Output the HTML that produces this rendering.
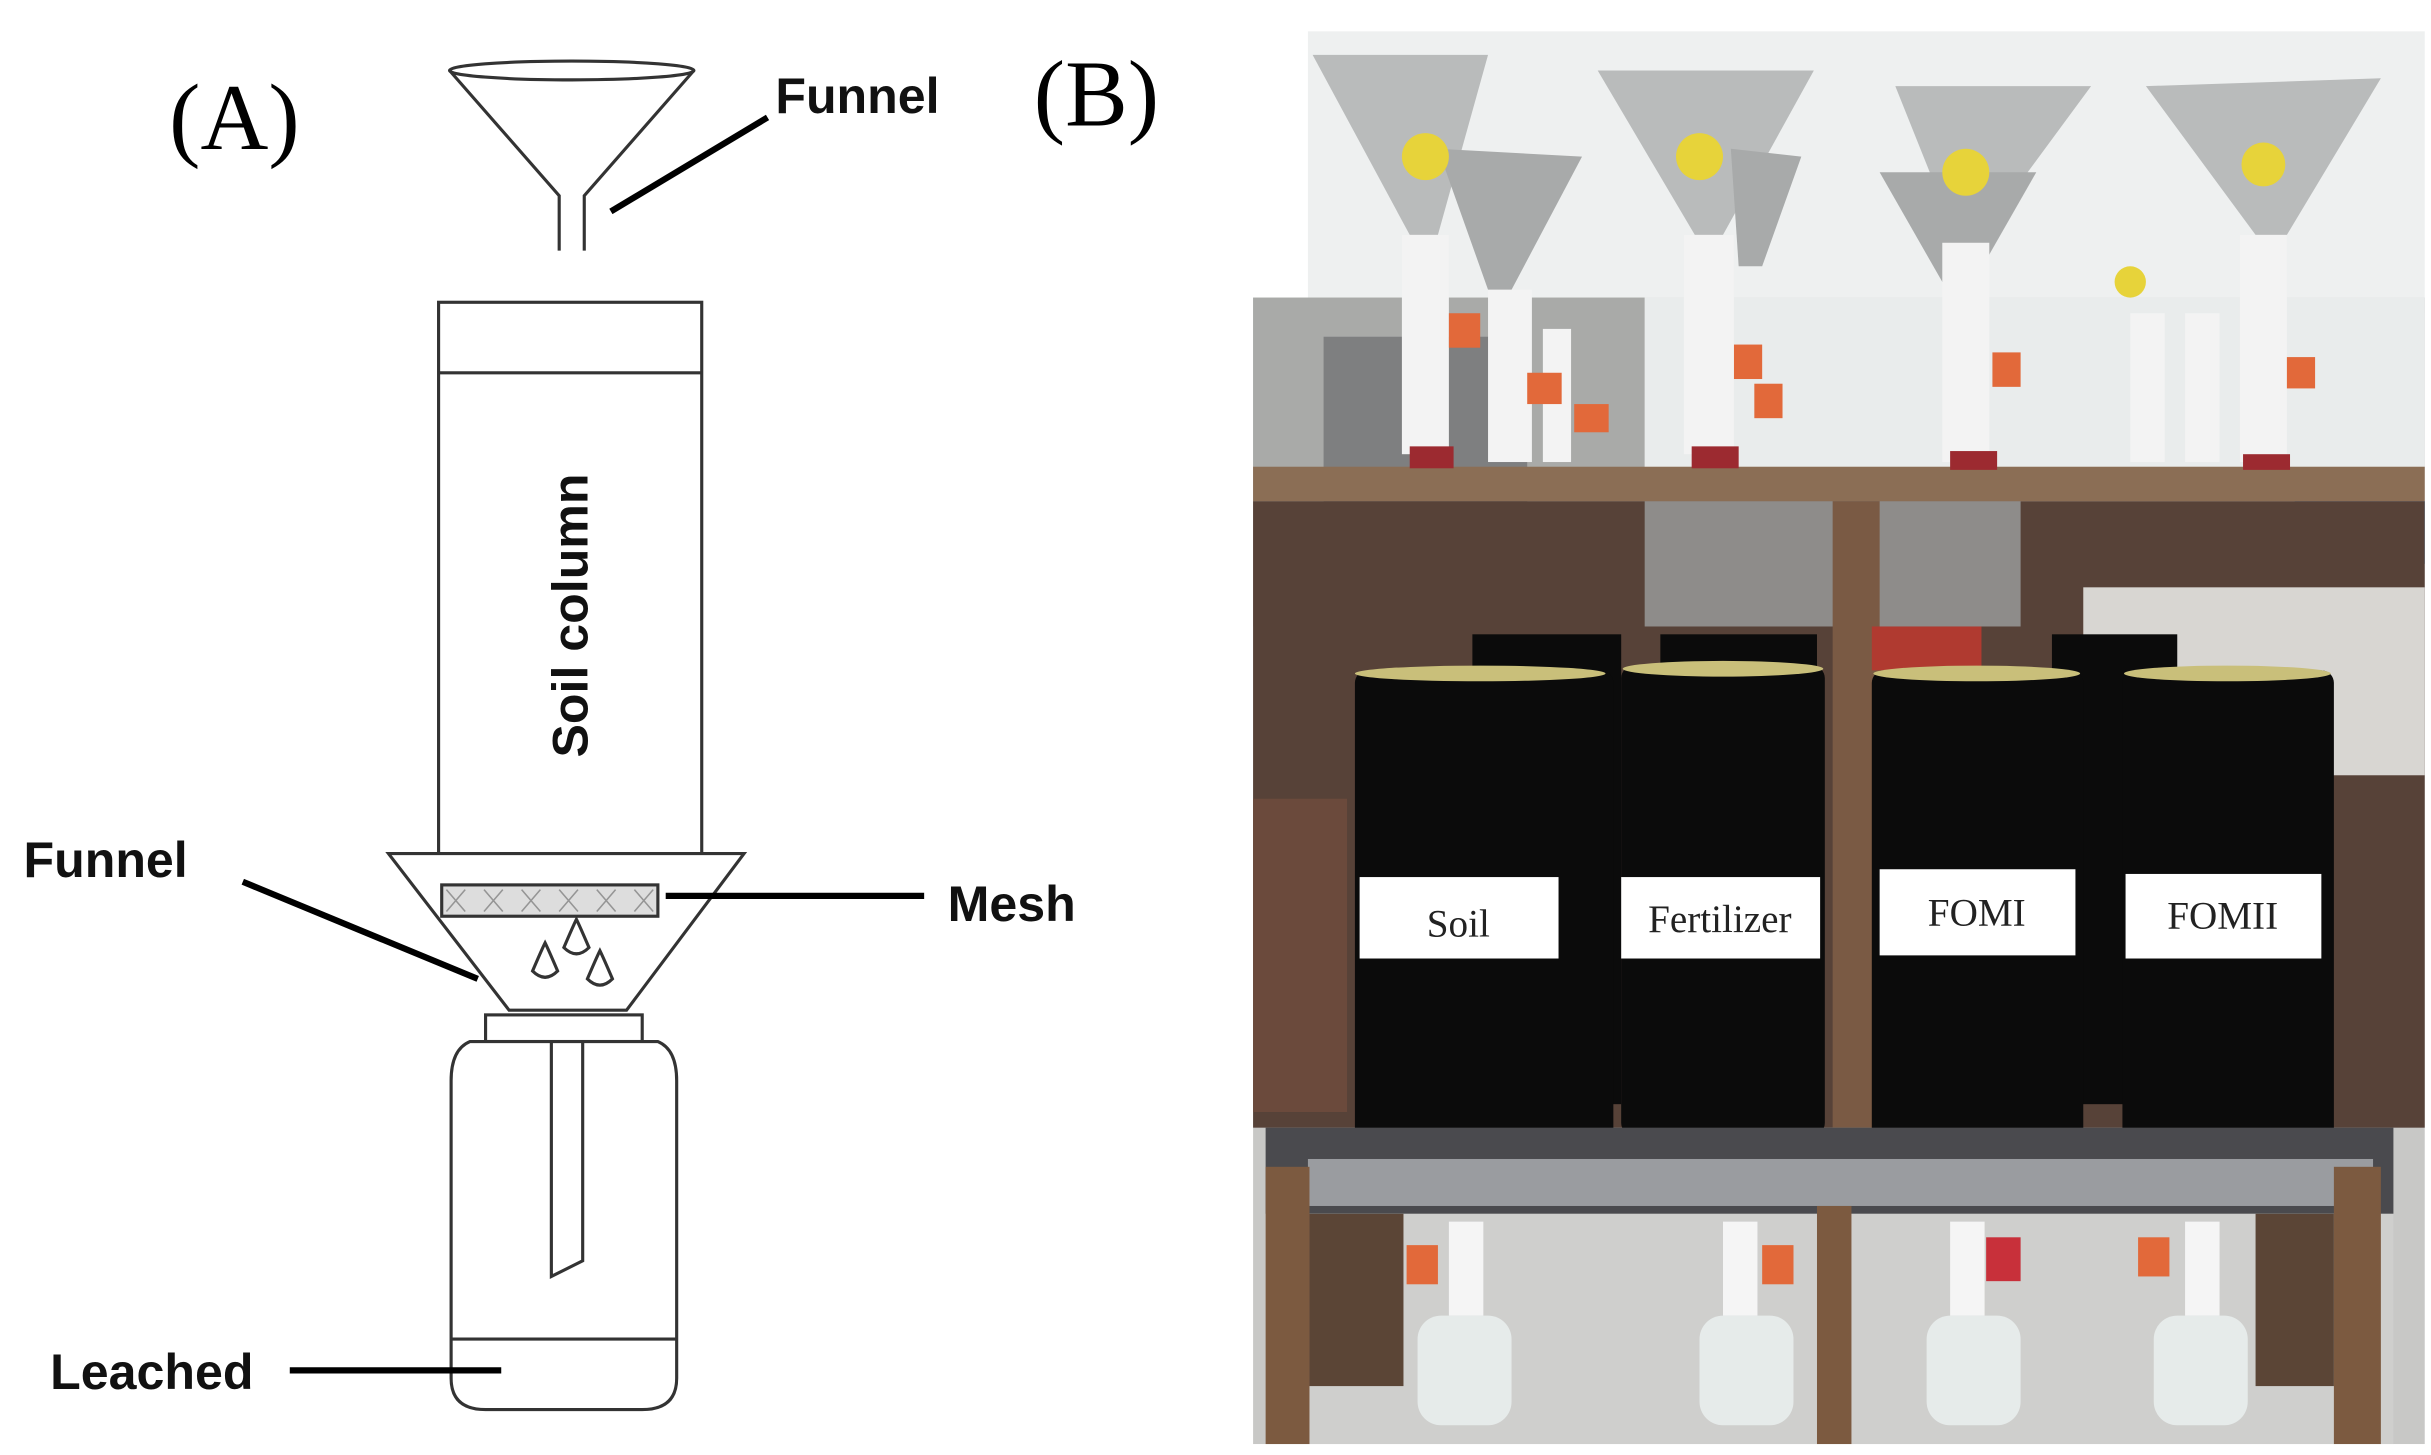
<!DOCTYPE html>
<html><head><meta charset="utf-8"><style>html,body{margin:0;padding:0;background:#fff}svg{display:block}</style></head>
<body>
<svg width="2431" height="1455" viewBox="0 0 1552 929" preserveAspectRatio="none" xmlns="http://www.w3.org/2000/svg">
<rect width="1552" height="929" fill="#fff"/>
<!-- Panel A -->
<text x="108" y="95" font-family="Liberation Serif, serif" font-size="60">(A)</text>
<text x="660" y="80" font-family="Liberation Serif, serif" font-size="60">(B)</text>
<g fill="none" stroke="#333" stroke-width="2">
<ellipse cx="365" cy="45" rx="78" ry="6"/>
<path d="M287 45 L357 125 L357 160 M443 45 L373 125 L373 160"/>
<rect x="280" y="193" width="168" height="352"/>
<line x1="280" y1="238" x2="448" y2="238"/>
<path d="M248 545 L475 545 L400 645 L325 645 Z" fill="#fff"/>
<rect x="282" y="565" width="138" height="20" fill="#ddd"/>
<path d="M340 620 q6-14 8-18 q2 4 8 18 q-8 8-16 0Z M360 605 q6-14 8-18 q2 4 8 18 q-8 8-16 0Z M375 625 q6-14 8-18 q2 4 8 18 q-8 8-16 0Z"/>
<rect x="310" y="648" width="100" height="17" fill="#fff"/>
<path d="M300 665 L420 665 Q432 670 432 690 L432 880 Q432 900 410 900 L310 900 Q288 900 288 880 L288 690 Q288 670 300 665Z" fill="#fff"/>
<line x1="288" y1="855" x2="432" y2="855"/>
<path d="M352 665 L352 815 L372 805 L372 665"/>
</g>
<g stroke="#666" stroke-width="1" opacity=".6">
<path d="M285 568 l12 14 m0-14 l-12 14 m24-14 l12 14 m0-14 l-12 14 m24-14 l12 14 m0-14 l-12 14 m24-14 l12 14 m0-14 l-12 14 m24-14 l12 14 m0-14 l-12 14 m24-14 l12 14 m0-14 l-12 14"/>
</g>
<g stroke="#000" stroke-width="4">
<line x1="390" y1="135" x2="490" y2="75"/>
<line x1="155" y1="563" x2="305" y2="625"/>
<line x1="425" y1="572" x2="590" y2="572"/>
<line x1="185" y1="875" x2="320" y2="875"/>
</g>
<g font-family="Liberation Sans, sans-serif" font-weight="bold" font-size="32" fill="#111">
<text x="495" y="72">Funnel</text>
<text x="15" y="560">Funnel</text>
<text x="605" y="588">Mesh</text>
<text x="32" y="887">Leached</text>
<text transform="translate(375,393) rotate(-90)" text-anchor="middle">Soil column</text>
</g>
<!-- Panel B photo -->
<rect x="835" y="20" width="713" height="180" fill="#eef0f0"/>
<rect x="800" y="190" width="748" height="732" fill="#c8c8c6"/>
<rect x="800" y="190" width="250" height="210" fill="#a9aaa8"/>
<rect x="845" y="215" width="130" height="110" fill="#7e7f80"/>
<rect x="1050" y="190" width="498" height="120" fill="#e9ecec"/>
<rect x="1290" y="325" width="100" height="25" fill="#2ba04a"/>
<rect x="1465" y="320" width="83" height="40" fill="#2a78c0"/>
<rect x="800" y="320" width="748" height="400" fill="#574238"/>
<rect x="1050" y="320" width="240" height="80" fill="#8e8c8a"/>
<rect x="1330" y="375" width="218" height="120" fill="#d8d6d2"/>
<rect x="800" y="510" width="60" height="200" fill="#6b4a3c"/>
<rect x="800" y="298" width="748" height="22" fill="#8b6e55"/>
<rect x="1170" y="320" width="30" height="400" fill="#7a5a44"/>
<!-- funnels -->
<g fill="#b9bbbb">
<path d="M838 35 L950 35 L918 150 L900 150Z"/><path d="M918 95 L1010 100 L965 185 L950 185Z" fill="#a8aaaa"/>
<path d="M1020 45 L1158 45 L1100 150 L1082 150Z"/><path d="M1105 95 L1150 100 L1125 170 L1110 170Z" fill="#a8aaaa"/>
<path d="M1210 55 L1335 55 L1265 150 L1248 150Z"/><path d="M1200 110 L1300 110 L1260 180 L1240 180Z" fill="#a8aaaa"/>
<path d="M1370 55 L1520 50 L1460 150 L1440 150Z"/>
</g>
<g fill="#e7d33a"><circle cx="910" cy="100" r="15"/><circle cx="1085" cy="100" r="15"/><circle cx="1255" cy="110" r="15"/><circle cx="1445" cy="105" r="14"/><circle cx="1360" cy="180" r="10"/></g>
<g fill="#f3f3f3">
<rect x="895" y="150" width="30" height="140"/><rect x="950" y="185" width="28" height="110"/><rect x="985" y="210" width="18" height="85"/>
<rect x="1075" y="150" width="32" height="140"/><rect x="1240" y="155" width="30" height="140"/><rect x="1430" y="150" width="30" height="145"/><rect x="1360" y="200" width="22" height="95"/><rect x="1395" y="200" width="22" height="95"/>
</g>
<g fill="#e2693a"><rect x="925" y="200" width="20" height="22"/><rect x="975" y="238" width="22" height="20"/><rect x="1005" y="258" width="22" height="18"/><rect x="1107" y="220" width="18" height="22"/><rect x="1120" y="245" width="18" height="22"/><rect x="1272" y="225" width="18" height="22"/><rect x="1460" y="228" width="18" height="20"/></g>
<g fill="#9c2a30"><rect x="900" y="285" width="28" height="14"/><rect x="1080" y="285" width="30" height="14"/><rect x="1245" y="288" width="30" height="12"/><rect x="1432" y="290" width="30" height="10"/></g>
<!-- cylinders -->
<g fill="#0b0b0b">
<rect x="940" y="405" width="95" height="300"/><rect x="1060" y="405" width="100" height="300"/><rect x="1310" y="405" width="80" height="300"/>
<rect x="865" y="428" width="165" height="300" rx="8"/><rect x="1035" y="425" width="130" height="300" rx="8"/><rect x="1195" y="428" width="135" height="300" rx="8"/><rect x="1355" y="428" width="135" height="300" rx="8"/>
</g>
<rect x="1195" y="400" width="70" height="28" fill="#b03a30"/>
<g fill="#c9bf7a"><ellipse cx="945" cy="430" rx="80" ry="5"/><ellipse cx="1100" cy="427" rx="64" ry="5"/><ellipse cx="1262" cy="430" rx="66" ry="5"/><ellipse cx="1422" cy="430" rx="66" ry="5"/></g>
<g fill="#fff"><rect x="868" y="560" width="127" height="52"/><rect x="1035" y="560" width="127" height="52"/><rect x="1200" y="555" width="125" height="55"/><rect x="1357" y="558" width="125" height="54"/></g>
<g font-family="Liberation Serif, serif" font-size="25" fill="#222" text-anchor="middle">
<text x="931" y="598">Soil</text><text x="1098" y="595">Fertilizer</text><text x="1262" y="591">FOMI</text><text x="1419" y="593">FOMII</text>
</g>
<!-- stand -->
<rect x="808" y="720" width="720" height="55" fill="#4a4a4e"/>
<rect x="835" y="740" width="680" height="30" fill="#9a9ca0"/>
<rect x="808" y="775" width="720" height="147" fill="#cfcfcd"/>
<g fill="#7c5a40"><rect x="808" y="745" width="28" height="177"/><rect x="1160" y="770" width="22" height="152"/><rect x="1490" y="745" width="30" height="177"/></g>
<g fill="#5b4536"><rect x="836" y="775" width="60" height="110"/><rect x="1440" y="775" width="50" height="110"/></g>
<g fill="#e6ebea"><rect x="905" y="840" width="60" height="70" rx="15"/><rect x="1085" y="840" width="60" height="70" rx="15"/><rect x="1230" y="840" width="60" height="70" rx="15"/><rect x="1375" y="840" width="60" height="70" rx="15"/></g>
<g fill="#f5f5f5"><rect x="925" y="780" width="22" height="60"/><rect x="1100" y="780" width="22" height="60"/><rect x="1245" y="780" width="22" height="60"/><rect x="1395" y="780" width="22" height="60"/></g>
<g fill="#e2693a"><rect x="898" y="795" width="20" height="25"/><rect x="1125" y="795" width="20" height="25"/><rect x="1365" y="790" width="20" height="25"/></g>
<rect x="1268" y="790" width="22" height="28" fill="#c8303a"/>
</svg>
</body></html>
